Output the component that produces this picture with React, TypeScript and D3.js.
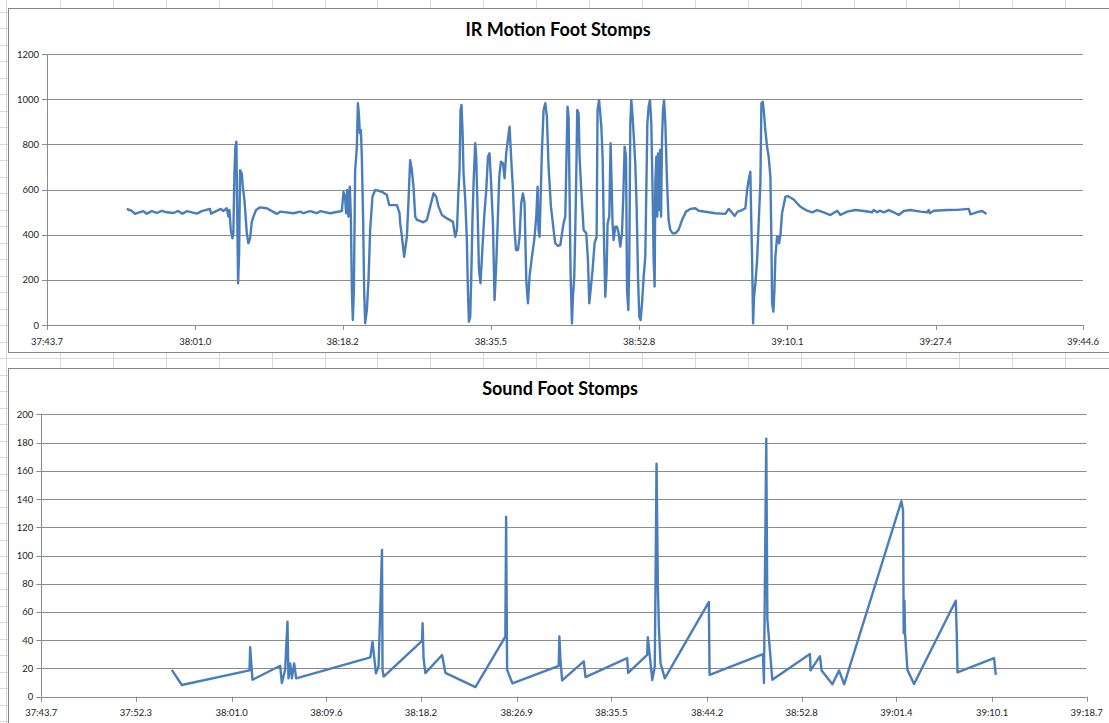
import React from "react";
import * as d3 from "d3";

// ---------- Data ----------
// Times are seconds after 37:00 (mm:ss.s axis labels)
const irTimes = [
  53.01, 53.59, 53.97, 54.56, 54.94, 55.34, 55.92, 56.51, 57.09, 57.68, 58.45, 59.03, 59.5, 60.01, 61.18, 61.76, 62.73, 62.85, 63.51, 63.98, 64.28, 64.68,
  64.87, 64.99, 65.15, 65.34, 65.45, 65.57, 65.69, 65.8, 65.88, 66.0, 66.12, 66.23, 66.43, 66.55, 66.74, 67.02, 67.2, 67.4, 67.6, 67.79, 68.1, 68.57, 69.35, 70.52, 70.91, 72.46, 73.24, 73.63, 74.41, 75.19, 75.58, 76.74, 78.11,
  78.3, 78.49, 78.61, 78.73, 78.88, 79.04, 79.16, 79.28, 79.39, 79.51, 79.66, 79.86, 79.98, 80.09, 80.21, 80.33, 80.44, 80.6, 80.71, 80.83, 81.03, 81.22, 81.41, 81.68, 82.0, 82.78, 83.36, 83.63, 83.95, 84.53, 84.84, 84.92,
  85.12, 85.38, 85.7, 85.89, 86.08, 86.28, 86.47, 86.67, 86.87, 87.64, 88.03, 88.42, 88.81, 89.12, 89.39, 89.79, 90.37, 91.07, 91.34, 91.54, 91.72, 91.84, 91.96, 92.07, 92.19, 92.31, 92.51, 92.7, 92.82, 92.94, 93.09, 93.21, 93.36, 93.48, 93.67, 93.79, 93.94, 94.11, 94.29, 94.46, 94.72, 94.96, 95.16, 95.34, 95.51, 95.74, 95.93, 96.13, 96.32, 96.48, 96.67, 96.91, 97.1, 97.29, 97.53, 97.68, 97.88, 98.08, 98.26, 98.43, 98.66, 98.85, 99.04, 99.24, 99.43, 99.63, 99.83, 100.01, 100.29, 100.56, 100.8, 100.95, 101.06, 101.18, 101.46, 101.65, 101.85, 102.04, 102.23, 102.51, 102.82, 103.01,
  103.33, 103.6, 103.8, 103.98, 104.18, 104.3, 104.45, 104.57, 104.68, 104.8, 104.96, 105.08, 105.23, 105.35, 105.47, 105.58, 105.74, 105.85, 106.05, 106.32, 106.63, 106.83, 106.98, 107.14, 107.37, 107.6, 107.84, 107.95, 108.12, 108.23, 108.39, 108.54, 108.7, 108.85, 109.0, 109.12, 109.32, 109.47, 109.59, 109.7, 109.82, 110.02, 110.22, 110.41, 110.6, 110.8, 110.95, 111.11, 111.27, 111.39, 111.54, 111.65, 111.77, 111.89, 112.04, 112.2, 112.35, 112.51, 112.67, 112.82, 112.97, 113.14, 113.33, 113.52, 113.76, 113.91, 114.07, 114.22, 114.37, 114.49, 114.61, 114.69, 114.81, 114.92, 115.01, 115.12, 115.24, 115.36, 115.47, 115.59, 115.71, 115.86, 116.06, 116.24, 116.44, 116.71, 117.03, 117.41, 117.81, 118.27, 118.78, 119.36, 119.75, 121.7,
  122.86, 123.25, 123.65, 123.95, 124.3, 124.81, 125.2, 125.4, 125.58, 125.78, 125.87, 125.98, 126.1, 126.21, 126.37, 126.57, 126.75, 126.95, 127.07, 127.22, 127.34, 127.53, 127.73, 127.92, 128.12, 128.23, 128.32, 128.47, 128.59, 128.7, 128.9, 129.02, 129.13, 129.29, 129.48, 129.87, 130.14, 130.84, 131.23, 131.62, 132.4, 132.99, 133.57,
  134.34, 135.12, 135.91, 136.29, 137.07, 138.04, 139.01, 139.99, 140.18, 140.58, 140.88, 141.35, 141.93, 142.52, 143.1, 143.68, 144.46, 145.63, 146.41, 146.6, 146.72, 147.19, 148.75, 149.92, 151.27, 151.47, 152.25, 152.84, 153.34,
];
const irValues = [
  514, 505, 492, 500, 504, 493, 504, 496, 505, 499, 496, 505, 493, 504, 493, 504, 514, 493, 505, 514, 505, 517,
  480, 509, 421, 384, 406, 672, 790, 812, 554, 185, 318, 686, 672, 612, 554, 406, 362, 384, 457, 480, 509, 521, 517, 492, 502, 495, 502, 495, 504, 495, 504, 495, 505,
  590, 561, 495, 598, 480, 612, 480, 155, 22, 155, 686, 790, 982, 937, 849, 863, 745, 450, 155, 8, 66, 199, 420, 568, 598, 590, 576, 531, 531, 531, 495, 450,
  391, 302, 391, 553, 730, 686, 612, 480, 465, 455, 465, 524, 583, 568, 524, 487, 472, 457, 391, 421, 598, 686, 952, 974, 863, 672, 553, 376, 155, 15, 37, 214, 480, 627, 805, 745, 524, 244, 185, 302, 480, 598, 745, 760, 642, 450, 111, 273, 480, 657, 723, 716, 650, 760, 834, 878, 730, 598, 421, 332, 332, 391, 539, 583, 539, 199, 96, 214, 302, 376, 480, 612, 421, 391, 775, 952, 982, 922, 701, 524, 421, 362,
  350, 354, 406, 450, 480, 701, 967, 922, 598, 229, 7, 125, 214, 421, 672, 952, 937, 745, 598, 421, 406, 288, 96, 155, 244, 362, 391, 952, 996, 952, 878, 745, 376, 125, 229, 450, 480, 805, 627, 450, 376, 435, 435, 406, 347, 406, 568, 790, 745, 155, 66, 273, 893, 996, 922, 819, 716, 524, 214, 37, 22, 96, 214, 302, 893, 967, 996, 893, 598, 302, 170, 627, 745, 480, 760, 509, 775, 480, 819, 952, 996, 893, 627, 465, 421, 406, 406, 421, 465, 502, 514, 517, 506, 495,
  492, 514, 497, 483, 502, 509, 517, 598, 642, 679, 495, 302, 7, 125, 185, 288, 450, 627, 982, 989, 952, 863, 790, 745, 657, 391, 96, 59, 155, 302, 391, 391, 362, 398, 495, 568, 571, 556, 539, 524, 506, 499, 509,
  499, 487, 506, 487, 502, 509, 505, 499, 509, 499, 506, 499, 509, 499, 487, 505, 509, 502, 499, 509, 495, 506, 509, 510, 514, 490, 500, 505, 492,
];

const soundTimes = [
  55.56, 56.47, 62.62, 62.68, 62.77, 62.89, 65.41, 65.56, 65.86, 66.07, 66.16, 66.32, 66.47, 66.68, 66.86,
  73.6, 73.8, 74.11, 74.35, 74.66, 74.71, 74.81, 78.3, 78.35, 78.44, 78.6, 80.12, 80.42, 83.15,
  85.87, 85.94, 86.03, 86.51, 90.72, 90.78, 90.88, 91.03, 93.0, 93.15, 96.94, 97.03,
  98.76, 98.82, 98.97, 99.22, 99.45, 99.61, 99.73, 99.82, 99.97, 100.36, 104.36, 104.43,
  109.28, 109.37, 109.58, 109.68, 110.13, 113.55, 113.61, 114.46, 114.61, 115.59, 116.19, 116.66,
  121.86, 122.01, 122.07, 122.14, 122.19, 122.41, 123.01, 126.8, 126.89, 126.96, 130.28, 130.44,
];
const soundValues = [
  19, 8.3, 18.6, 35, 25, 12, 21.9, 9.7, 19.1, 53.2, 13, 23.6, 13, 23.6, 13,
  27.8, 38.9, 16.5, 21.4, 104, 19, 14.3, 39.6, 52, 27.1, 16.7, 29.5, 16.9, 6.8,
  42.6, 127.4, 19, 9.5, 21.9, 42.6, 26.1, 11.5, 25, 13.9, 27.3, 16.9,
  29.7, 42.2, 30.9, 11.8, 21.4, 165.1, 78, 49.7, 23.8, 13, 67, 15.5,
  30.2, 9.7, 182.8, 55, 12, 30.2, 18.6, 28.7, 18.6, 8.8, 18.6, 8.8,
  138.5, 132, 45, 68, 45, 19, 9, 68, 45, 17.2, 27.3, 15.5,
];

const irTickLabels = ["37:43.7", "38:01.0", "38:18.2", "38:35.5", "38:52.8", "39:10.1", "39:27.4", "39:44.6"];
const soundTickLabels = ["37:43.7", "37:52.3", "38:01.0", "38:09.6", "38:18.2", "38:26.9", "38:35.5", "38:44.2", "38:52.8", "39:01.4", "39:10.1", "39:18.7"];
const irYTicks = [0, 200, 400, 600, 800, 1000, 1200];
const soundYTicks = [0, 20, 40, 60, 80, 100, 120, 140, 160, 180, 200];

const parseLabel = (s: string) => {
  const [m, sec] = s.split(":");
  return (+m - 37) * 60 + +sec;
};

const FONT = "Lato, 'Open Sans', sans-serif";
const LINE = "#4a7ebb";
const GRID = "#8c8c8c";
const SHEET = "#d9d9d9";

type ChartProps = {
  title: string;
  times: number[];
  values: number[];
  tickLabels: string[];
  yTicks: number[];
  frame: { x: number; y: number; w: number; h: number };
  plot: { l: number; r: number; t: number; b: number };
  titleX: number;
  titleY: number;
};

function Chart({ title, times, values, tickLabels, yTicks, frame, plot, titleX, titleY }: ChartProps) {
  const tickVals = tickLabels.map(parseLabel);
  const x = d3.scaleLinear().domain([tickVals[0], tickVals[tickVals.length - 1]]).range([plot.l, plot.r]);
  const y = d3.scaleLinear().domain([yTicks[0], yTicks[yTicks.length - 1]]).range([plot.b, plot.t]);
  const pts = times.map((t, i) => [t, values[i]] as [number, number]);
  const line = d3
    .line<[number, number]>()
    .x((d) => x(d[0]))
    .y((d) => y(d[1]));
  return (
    <g>
      <rect x={frame.x} y={frame.y} width={frame.w} height={frame.h} fill="#fff" stroke="#868686" strokeWidth={1} />
      <text x={titleX} y={titleY} textAnchor="middle" fontFamily={FONT} fontWeight="bold" fontSize={18} fill="#000">
        {title}
      </text>
      {yTicks.map((v) => (
        <g key={"g" + v}>
          {v !== yTicks[0] && (
            <line x1={plot.l} x2={plot.r} y1={Math.round(y(v)) + 0.5} y2={Math.round(y(v)) + 0.5} stroke={GRID} strokeWidth={1} />
          )}
          <line x1={plot.l - 5} x2={plot.l} y1={Math.round(y(v)) + 0.5} y2={Math.round(y(v)) + 0.5} stroke={GRID} />
          <text x={plot.l - 8} y={y(v) + 3.5} textAnchor="end" fontFamily={FONT} fontSize={9.5} fill="#222">
            {v}
          </text>
        </g>
      ))}
      <line x1={Math.round(plot.l) + 0.5} x2={Math.round(plot.l) + 0.5} y1={plot.t} y2={plot.b} stroke={GRID} />
      <line x1={plot.l} x2={plot.r} y1={Math.round(plot.b) + 0.5} y2={Math.round(plot.b) + 0.5} stroke={GRID} />
      {tickLabels.map((lab, i) => (
        <g key={"x" + i}>
          <line
            x1={Math.round(x(tickVals[i])) + 0.5}
            x2={Math.round(x(tickVals[i])) + 0.5}
            y1={plot.b}
            y2={plot.b + 5}
            stroke={GRID}
          />
          <text x={x(tickVals[i])} y={plot.b + 19.5} textAnchor="middle" fontFamily={FONT} fontSize={9.5} fill="#222">
            {lab}
          </text>
        </g>
      ))}
      <path d={line(pts) || ""} fill="none" stroke={LINE} strokeWidth={2.4} strokeLinejoin="round" />
    </g>
  );
}

export default function App() {
  const W = 1109;
  const H = 723;
  const cols = d3.range(0, 20).map((k) => 60 + 52.9 * k);
  const rows = d3.range(-1, 45).map((k) => 11.7 + 16.5 * k);
  return (
    <svg width={W} height={H} style={{ position: "absolute", left: 0, top: 0, background: "#fff" }}>
      {cols.map((c, i) => (
        <line key={"c" + i} x1={Math.round(c) + 0.5} x2={Math.round(c) + 0.5} y1={0} y2={H} stroke={SHEET} />
      ))}
      {rows.map((r, i) => (
        <line key={"r" + i} x1={0} x2={W} y1={Math.round(r) + 0.5} y2={Math.round(r) + 0.5} stroke={SHEET} />
      ))}
      <line x1={6.5} x2={6.5} y1={0} y2={H} stroke={SHEET} />
      <Chart
        title="IR Motion Foot Stomps"
        times={irTimes}
        values={irValues}
        tickLabels={irTickLabels}
        yTicks={irYTicks}
        frame={{ x: 8.5, y: 8.5, w: 1120, h: 344 }}
        plot={{ l: 47, r: 1083, t: 54, b: 325 }}
        titleX={558}
        titleY={36}
      />
      <Chart
        title="Sound Foot Stomps"
        times={soundTimes}
        values={soundValues}
        tickLabels={soundTickLabels}
        yTicks={soundYTicks}
        frame={{ x: 8.5, y: 368.5, w: 1120, h: 400 }}
        plot={{ l: 41.3, r: 1086.7, t: 414.3, b: 696.7 }}
        titleX={560}
        titleY={395}
      />
    </svg>
  );
}
